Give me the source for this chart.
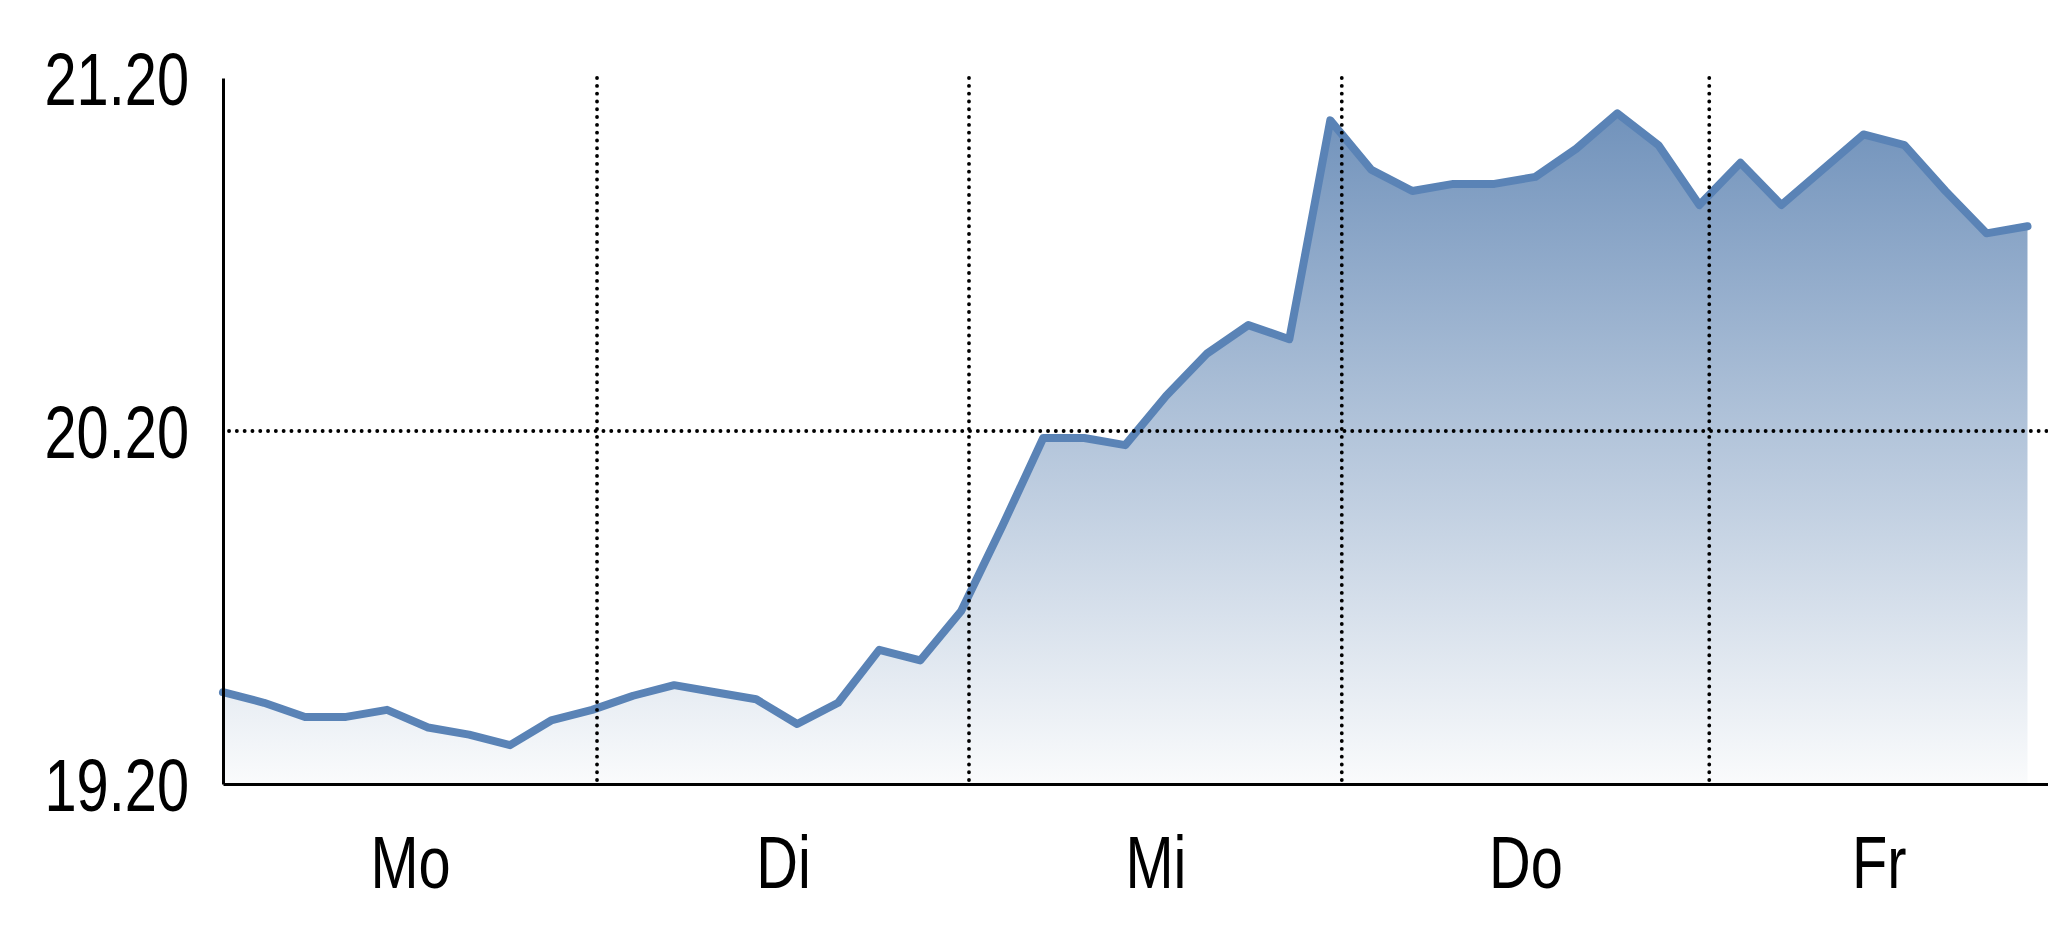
<!DOCTYPE html>
<html>
<head>
<meta charset="utf-8">
<script src="https://cdn.jsdelivr.net/npm/d3@7"></script>
<style>
  body { margin: 0; background: #fff; }
  svg { display: block; }
</style>
</head>
<body>
<div id="chart"></div>
<script>
//weekday labels
const days = ["Mo", "Di", "Mi", "Do", "Fr"];

//where each day starts, in data-point index units
const dayStarts = [0, 9.12, 18.19, 27.28, 36.24];

//price per data point
const prices = [
  19.46, 19.43, 19.39, 19.39, 19.41, 19.36, 19.34, 19.31, 19.38, 19.41,
  19.45, 19.48, 19.46, 19.44, 19.37, 19.43, 19.58, 19.55, 19.69, 19.93,
  20.18, 20.18, 20.16, 20.30, 20.42, 20.50, 20.46, 21.08, 20.94, 20.88,
  20.90, 20.90, 20.92, 21.00, 21.10, 21.01, 20.84, 20.96, 20.84, 20.94,
  21.04, 21.01, 20.88, 20.76, 20.78,
];

//y tick values
const yTicks = [19.2, 20.2, 21.2];

//size
const width = 2048;
const height = 937;
const margin = { top: 78, right: 0, bottom: 153, left: 223 };
const xMax = 44.5;
const squeeze = 0.77; //narrow lettering

const x = d3
  .scaleLinear()
  .domain([0, xMax])
  .range([margin.left, width - margin.right]);

const y = d3
  .scaleLinear()
  .domain([19.2, 21.2])
  .range([height - margin.bottom, margin.top]);

const svg = d3
  .select("#chart")
  .append("svg")
  .attr("width", width)
  .attr("height", height);

//fill gradient
const grad = svg
  .append("defs")
  .append("linearGradient")
  .attr("id", "fade")
  .attr("gradientUnits", "userSpaceOnUse")
  .attr("x1", 0)
  .attr("x2", 0)
  .attr("y1", y(21.2))
  .attr("y2", y(19.2));
grad.append("stop").attr("offset", 0).attr("stop-color", "#6a8db8");
grad.append("stop").attr("offset", 1).attr("stop-color", "#fafbfc");

//area
svg
  .append("path")
  .datum(prices)
  .attr("fill", "url(#fade)")
  .attr(
    "d",
    d3
      .area()
      .x((d, i) => x(i))
      .y0(y(19.2))
      .y1((d) => y(d))
  );

//line
svg
  .append("path")
  .datum(prices)
  .attr("fill", "none")
  .attr("stroke", "#5a83b6")
  .attr("stroke-width", 8)
  .attr("stroke-linejoin", "round")
  .attr("stroke-linecap", "round")
  .attr(
    "d",
    d3
      .line()
      .x((d, i) => x(i))
      .y((d) => y(d))
  );

//dotted grid
const grid = svg
  .append("g")
  .attr("stroke", "#000")
  .attr("stroke-width", 3.8)
  .attr("stroke-linecap", "round")
  .attr("stroke-dasharray", "0.1 7.7");

grid
  .selectAll("line.v")
  .data(dayStarts.slice(1))
  .join("line")
  .attr("class", "v")
  .attr("x1", (d) => x(d))
  .attr("x2", (d) => x(d))
  .attr("y1", y(21.2))
  .attr("y2", y(19.2));

grid
  .selectAll("line.h")
  .data([20.2])
  .join("line")
  .attr("class", "h")
  .attr("x1", x(0) + 6)
  .attr("x2", x(xMax))
  .attr("y1", (d) => y(d))
  .attr("y2", (d) => y(d));

//y axis
svg
  .append("g")
  .attr("transform", `translate(${margin.left},0)`)
  .call(
    d3
      .axisLeft(y)
      .tickValues(yTicks)
      .tickSize(0)
      .tickSizeOuter(0)
      .tickFormat(d3.format(".2f"))
  )
  .call((g) => g.select(".domain").attr("stroke-width", 3))
  .call((g) =>
    g
      .selectAll("text")
      .attr("font-family", "'Liberation Sans', Arial, sans-serif")
      .attr("font-size", 75)
      .attr("fill", "#000")
      .attr("x", -34 / squeeze)
      .attr("dy", "0.35em")
      .attr("transform", `scale(${squeeze},1)`)
  );

//day label centers (visible part of each day)
const dayCenters = dayStarts.map((s, i) => {
  const e = i + 1 < dayStarts.length ? dayStarts[i + 1] : xMax;
  return (s + Math.min(e, xMax)) / 2;
});

//x axis
svg
  .append("g")
  .attr("transform", `translate(0,${y(19.2)})`)
  .call(
    d3
      .axisBottom(x)
      .tickValues(dayCenters)
      .tickSize(0)
      .tickSizeOuter(0)
      .tickFormat((d, i) => days[i])
  )
  .call((g) => g.select(".domain").attr("stroke-width", 3.2))
  .call((g) =>
    g
      .selectAll("text")
      .attr("font-family", "'Liberation Sans', Arial, sans-serif")
      .attr("font-size", 75)
      .attr("fill", "#000")
      .attr("y", 104)
      .attr("dy", 0)
      .attr("transform", `scale(${squeeze},1)`)
  );
</script>
</body>
</html>
